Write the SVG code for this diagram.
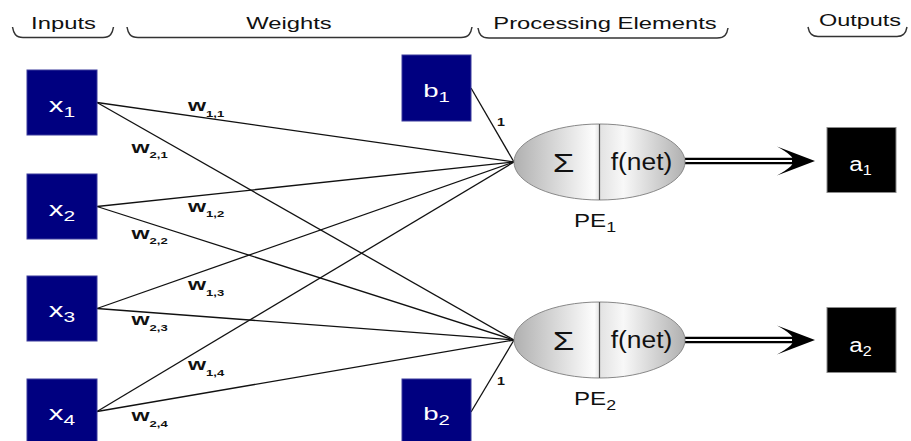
<svg xmlns="http://www.w3.org/2000/svg" width="911" height="441" viewBox="0 0 911 441">
  <style>
    text { font-family: "Liberation Sans", Arial, sans-serif; }
    .hdr { font-size: 17px; fill: #111; text-anchor: middle; }
    .brace { fill: none; stroke: #333; stroke-width: 1.5; }
    .in { fill: #000080; stroke: #3b3b9c; stroke-width: 1; }
    .out { fill: #000; stroke: #8a8a8a; stroke-width: 1; }
    .lbl { fill: #fff; text-anchor: middle; }
    .wt { font-size: 16px; font-weight: bold; fill: #111; }
    .wsub { font-size: 9px; }
    .one { font-size: 11px; font-weight: bold; fill: #111; text-anchor: middle; }
    .wire { stroke: #111; stroke-width: 1.3; fill: none; }
    .pe { fill: url(#peFill); stroke: #888; stroke-width: 1; }
    .div { stroke: #555; stroke-width: 1.2; }
    .dark { fill: #111; text-anchor: middle; }
    .dbl-o { stroke: #000; stroke-width: 6.6; fill: none; }
    .dbl-i { stroke: #fff; stroke-width: 2; fill: none; }
    .head { fill: #000; }
  </style>
  <defs>
    <linearGradient id="peFill" x1="0" y1="0" x2="1" y2="0">
      <stop offset="0" stop-color="#b0b0b0"/>
      <stop offset="0.47" stop-color="#fdfdfd"/>
      <stop offset="0.5" stop-color="#e2e2e2"/>
      <stop offset="0.64" stop-color="#f8f8f8"/>
      <stop offset="1" stop-color="#b0b0b0"/>
    </linearGradient>
  </defs>

  <!-- column headings -->
  <g id="headings">
    <path class="brace" d="M12.5,27 C13.5,33 15.5,37.5 23,37.5 L103,37.5 C110.5,37.5 112.5,33 113.5,27"/>
    <text class="hdr" transform="translate(63.5,29) scale(1.4,1)">Inputs</text>
    <path class="brace" d="M127,27 C128,33 130,37.5 138,37.5 L461,37.5 C469,37.5 471,33 472,27"/>
    <text class="hdr" transform="translate(289,29) scale(1.4,1)">Weights</text>
    <path class="brace" d="M478,28 C479,34 481,38 489,38 L717,38 C725,38 727,34 728,28"/>
    <text class="hdr" transform="translate(605,29) scale(1.4,1)">Processing Elements</text>
    <path class="brace" d="M808,27 C809,32.5 811,36.5 818,36.5 L897,36.5 C904,36.5 906,32.5 907,27"/>
    <text class="hdr" transform="translate(860,26) scale(1.38,1)">Outputs</text>
  </g>

  <!-- weighted connections -->
  <g id="connectors">
    <line class="wire" x1="97" y1="102.5" x2="514" y2="162"/>
    <line class="wire" x1="97" y1="102.5" x2="514" y2="340"/>
    <line class="wire" x1="97" y1="206.5" x2="514" y2="162"/>
    <line class="wire" x1="97" y1="206.5" x2="514" y2="340"/>
    <line class="wire" x1="97" y1="308.5" x2="514" y2="162"/>
    <line class="wire" x1="97" y1="308.5" x2="514" y2="340"/>
    <line class="wire" x1="97" y1="411.5" x2="514" y2="162"/>
    <line class="wire" x1="97" y1="411.5" x2="514" y2="340"/>
    <line class="wire" x1="471" y1="88" x2="514" y2="162"/>
    <line class="wire" x1="471" y1="412" x2="514" y2="340"/>
    <!-- outputs: double-line arrows -->
    <line class="dbl-o" x1="685" y1="161" x2="794" y2="161"/>
    <line class="dbl-i" x1="685" y1="161" x2="792" y2="161"/>
    <path class="head" d="M815,161 L777,146.5 Q796,157 792,161 Q796,165 777,175.5 Z"/>
    <line class="dbl-o" x1="685" y1="340" x2="794" y2="340"/>
    <line class="dbl-i" x1="685" y1="340" x2="792" y2="340"/>
    <path class="head" d="M815,340 L777,325.5 Q796,336 792,340 Q796,344 777,354.5 Z"/>
  </g>

  <!-- weight labels -->
  <g id="weights">
    <text class="wt" transform="translate(188,111) scale(1.45,1)">w<tspan class="wsub" dy="5.5">1,1</tspan></text>
    <text class="wt" transform="translate(131.5,152.5) scale(1.45,1)">w<tspan class="wsub" dy="5.5">2,1</tspan></text>
    <text class="wt" transform="translate(188,211.5) scale(1.45,1)">w<tspan class="wsub" dy="5.5">1,2</tspan></text>
    <text class="wt" transform="translate(131.5,238.5) scale(1.45,1)">w<tspan class="wsub" dy="5.5">2,2</tspan></text>
    <text class="wt" transform="translate(188,290) scale(1.45,1)">w<tspan class="wsub" dy="5.5">1,3</tspan></text>
    <text class="wt" transform="translate(131.5,325) scale(1.45,1)">w<tspan class="wsub" dy="5.5">2,3</tspan></text>
    <text class="wt" transform="translate(188,370) scale(1.45,1)">w<tspan class="wsub" dy="5.5">1,4</tspan></text>
    <text class="wt" transform="translate(131.5,421) scale(1.45,1)">w<tspan class="wsub" dy="5.5">2,4</tspan></text>
    <text class="one" transform="translate(501,126) scale(1.3,1)">1</text>
    <text class="one" transform="translate(501,385) scale(1.3,1)">1</text>
  </g>

  <!-- inputs -->
  <g id="x1">
    <rect class="in" x="27" y="70" width="70" height="65"/>
    <text class="lbl" font-size="21" transform="translate(62,111.5) scale(1.4,1)">x<tspan font-size="15" dy="5">1</tspan></text>
  </g>
  <g id="x2">
    <rect class="in" x="27" y="174" width="70" height="65"/>
    <text class="lbl" font-size="21" transform="translate(62,215.5) scale(1.4,1)">x<tspan font-size="15" dy="5">2</tspan></text>
  </g>
  <g id="x3">
    <rect class="in" x="27" y="276" width="70" height="65"/>
    <text class="lbl" font-size="21" transform="translate(62,317) scale(1.4,1)">x<tspan font-size="15" dy="5">3</tspan></text>
  </g>
  <g id="x4">
    <rect class="in" x="27" y="379" width="70" height="65"/>
    <text class="lbl" font-size="21" transform="translate(62,420) scale(1.4,1)">x<tspan font-size="15" dy="5">4</tspan></text>
  </g>

  <!-- biases -->
  <g id="b1">
    <rect class="in" x="402" y="55" width="69" height="66"/>
    <text class="lbl" font-size="19" transform="translate(436.5,96.5) scale(1.45,1)">b<tspan font-size="14" dy="5">1</tspan></text>
  </g>
  <g id="b2">
    <rect class="in" x="402" y="379" width="69" height="66"/>
    <text class="lbl" font-size="19" transform="translate(436.5,420) scale(1.45,1)">b<tspan font-size="14" dy="5">2</tspan></text>
  </g>

  <!-- processing elements -->
  <g id="pe1">
    <ellipse class="pe" cx="599.5" cy="162" rx="85.5" ry="38"/>
    <line class="div" x1="599.5" y1="124" x2="599.5" y2="200"/>
    <text class="dark" font-size="26" transform="translate(563.5,171.5) scale(1.35,1)">Σ</text>
    <text class="dark" font-size="24" transform="translate(641.5,170) scale(1.1,1)">f(net)</text>
    <text class="dark" font-size="19" transform="translate(595,226.5) scale(1.27,1)">PE<tspan font-size="14" dy="5">1</tspan></text>
  </g>
  <g id="pe2">
    <ellipse class="pe" cx="599.5" cy="340" rx="85.5" ry="38"/>
    <line class="div" x1="599.5" y1="302" x2="599.5" y2="378"/>
    <text class="dark" font-size="26" transform="translate(563.5,350) scale(1.35,1)">Σ</text>
    <text class="dark" font-size="24" transform="translate(641.5,348.3) scale(1.1,1)">f(net)</text>
    <text class="dark" font-size="19" transform="translate(595,405) scale(1.27,1)">PE<tspan font-size="14" dy="5">2</tspan></text>
  </g>

  <!-- outputs -->
  <g id="a1">
    <rect class="out" x="827" y="127.5" width="69" height="65"/>
    <text class="lbl" font-size="21" transform="translate(860.5,170.5) scale(1.15,1)">a<tspan font-size="14" dy="4.5">1</tspan></text>
  </g>
  <g id="a2">
    <rect class="out" x="827" y="307.5" width="69" height="65"/>
    <text class="lbl" font-size="21" transform="translate(860.5,351.5) scale(1.15,1)">a<tspan font-size="14" dy="4.5">2</tspan></text>
  </g>
</svg>
